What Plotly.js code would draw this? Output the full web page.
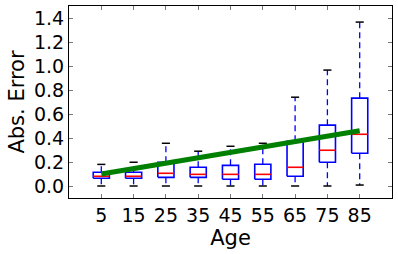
<!DOCTYPE html>
<html><head><meta charset="utf-8">
<script src="https://cdn.plot.ly/plotly-3.0.1.min.js"></script>
<style>body{margin:0;padding:0;background:#fff}#chart{width:398px;height:254px}</style>
</head><body><div id="chart"></div>
<script>
// Data
const ages = [5, 15, 25, 35, 45, 55, 65, 75, 85];
const whiskerLow = [0.0, 0.0, 0.0, 0.0, 0.0, 0.0, 0.0, 0.0, 0.008];
const q1 = [0.064, 0.064, 0.072, 0.072, 0.056, 0.056, 0.081, 0.198, 0.273];
const median = [0.081, 0.081, 0.106, 0.097, 0.097, 0.097, 0.156, 0.298, 0.431];
const q3 = [0.114, 0.114, 0.198, 0.156, 0.172, 0.181, 0.373, 0.507, 0.732];
const whiskerHigh = [0.18, 0.198, 0.356, 0.29, 0.331, 0.356, 0.74, 0.966, 1.366];
const fitX = [5, 85];
const fitY = [0.10, 0.46];
const yTicks = [0.0, 0.2, 0.4, 0.6, 0.8, 1.0, 1.2, 1.4];

const half = 2.5, capHalf = 1.25;
const bx = [], by = [], mx = [], my = [], wx = [], wy = [], cx = [], cy = [];
ages.forEach((a, i) => {
  bx.push(a - half, a + half, a + half, a - half, a - half, null);
  by.push(q1[i], q1[i], q3[i], q3[i], q1[i], null);
  mx.push(a - half, a + half, null); my.push(median[i], median[i], null);
  wx.push(a, a, null, a, a, null);
  wy.push(q3[i], whiskerHigh[i], null, q1[i], whiskerLow[i], null);
  cx.push(a - capHalf, a + capHalf, null, a - capHalf, a + capHalf, null);
  cy.push(whiskerHigh[i], whiskerHigh[i], null, whiskerLow[i], whiskerLow[i], null);
});

const traces = [
  {x: wx, y: wy, mode: 'lines', line: {color: '#0000ff', width: 1.3, dash: '6px,4px'}, hoverinfo: 'skip'},
  {x: cx, y: cy, mode: 'lines', line: {color: '#000000', width: 1.5}, hoverinfo: 'skip'},
  {x: bx, y: by, mode: 'lines', line: {color: '#0000ff', width: 1.6}, hoverinfo: 'skip'},
  {x: mx, y: my, mode: 'lines', line: {color: '#ff0000', width: 1.6}, hoverinfo: 'skip'},
  {x: fitX, y: fitY, mode: 'lines', line: {color: '#008000', width: 5}, hoverinfo: 'skip'}
];

const font = {family: 'DejaVu Sans', color: '#000', size: 19};
const layout = {
  width: 398, height: 254,
  margin: {l: 69, r: 6, t: 6, b: 56},
  paper_bgcolor: '#fff', plot_bgcolor: '#fff',
  showlegend: false,
  font: font,
  xaxis: {
    range: [-5, 95], tickmode: 'array', tickvals: ages, ticktext: ages.map(String),
    ticks: 'inside', ticklen: 4, tickcolor: '#777', mirror: 'ticks',
    showline: true, linecolor: '#000', linewidth: 1, showgrid: false, zeroline: false,
    tickfont: font, title: {text: 'Age', font: {family: 'DejaVu Sans', size: 21, color: '#000'}, standoff: 4}
  },
  yaxis: {
    range: [-0.1, 1.5], tickmode: 'array', tickvals: yTicks, ticktext: yTicks.map(v => v.toFixed(1)),
    ticks: 'inside', ticklen: 4, tickcolor: '#777', mirror: 'ticks',
    showline: true, linecolor: '#000', linewidth: 1, showgrid: false, zeroline: false,
    tickfont: font, title: {text: 'Abs. Error', font: {family: 'DejaVu Sans', size: 21, color: '#000'}, standoff: 3}
  }
};
Plotly.newPlot('chart', traces, layout, {staticPlot: true, displayModeBar: false});
</script></body></html>
